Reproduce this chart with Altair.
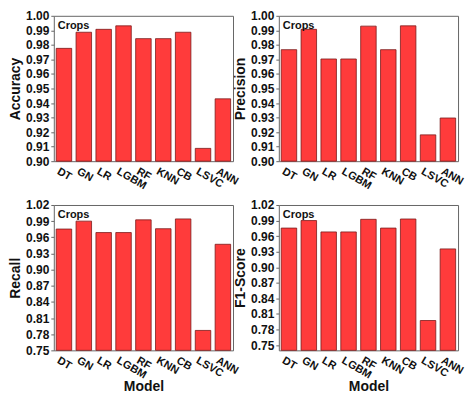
import altair as alt
import pandas as pd

models = ["DT", "GN", "LR", "LGBM", "RF", "KNN", "CB", "LSVC", "ANN"]
accuracy = [0.9776, 0.9887, 0.9907, 0.9931, 0.9843, 0.9843, 0.9887, 0.9088, 0.9429]
precision = [0.9767, 0.9907, 0.9703, 0.9703, 0.9929, 0.9767, 0.9931, 0.9181, 0.9297]
recall = [0.9753, 0.9900, 0.9688, 0.9688, 0.9924, 0.9759, 0.9941, 0.7870, 0.9470]
f1score = [0.9755, 0.9900, 0.9681, 0.9681, 0.9924, 0.9755, 0.9930, 0.7975, 0.9354]

acc_ticks = [0.90, 0.91, 0.92, 0.93, 0.94, 0.95, 0.96, 0.97, 0.98, 0.99, 1.00]
rec_ticks = [0.75, 0.78, 0.81, 0.84, 0.87, 0.90, 0.93, 0.96, 0.99, 1.02]

FONT = "Liberation Sans"
W, H = 180, 146


def panel(values, name, domain, ticks, show_x_title):
    df = pd.DataFrame({"Model": models, name: values})
    bars = alt.Chart(df).mark_bar(
        fill="#FF3B3B", stroke="#7A1A1A", strokeWidth=0.8
    ).encode(
        x=alt.X("Model:N", sort=models,
                scale=alt.Scale(paddingInner=0.22, paddingOuter=0.12),
                axis=alt.Axis(title="Model" if show_x_title else None,
                              labelAngle=30, labelAlign="left", labelBaseline="top",
                              labelPadding=4, labelOffset=-3, labelFontSize=11,
                              ticks=False, domain=False, titlePadding=0)),
        y=alt.Y(f"{name}:Q",
                scale=alt.Scale(domain=domain, zero=False, nice=False),
                axis=alt.Axis(title=name, values=ticks, format=".2f",
                              tickSize=3, domain=False, grid=False)),
        y2=alt.datum(domain[0]),
    )
    label = alt.Chart(pd.DataFrame({"t": ["Crops"]})).mark_text(
        align="left", baseline="top", font=FONT, fontWeight="bold", fontSize=11,
        color="#111111"
    ).encode(text="t:N", x=alt.value(4), y=alt.value(4))
    return alt.layer(bars, label).properties(width=W, height=H)


p1 = panel(accuracy, "Accuracy", [0.90, 1.00], acc_ticks, False)
p2 = panel(precision, "Precision", [0.90, 1.00], acc_ticks, False)
p3 = panel(recall, "Recall", [0.75, 1.02], rec_ticks, True)
p4 = panel(f1score, "F1-Score", [0.74, 1.02], rec_ticks, True)

chart = alt.vconcat(
    alt.hconcat(p1, p2, spacing=46, bounds="flush"),
    alt.hconcat(p3, p4, spacing=46, bounds="flush"),
    spacing=6,
).configure_view(
    stroke="#666666", strokeWidth=1
).configure_axis(
    labelFont=FONT, labelFontWeight="bold", labelFontSize=12, labelColor="#111111",
    titleFont=FONT, titleFontWeight="bold", titleFontSize=14, titleColor="#111111",
    tickColor="#666666", labelPadding=2, titlePadding=3,
).properties(padding=0)

chart.save("out.html", embed_options={"renderer": "svg", "actions": False})
